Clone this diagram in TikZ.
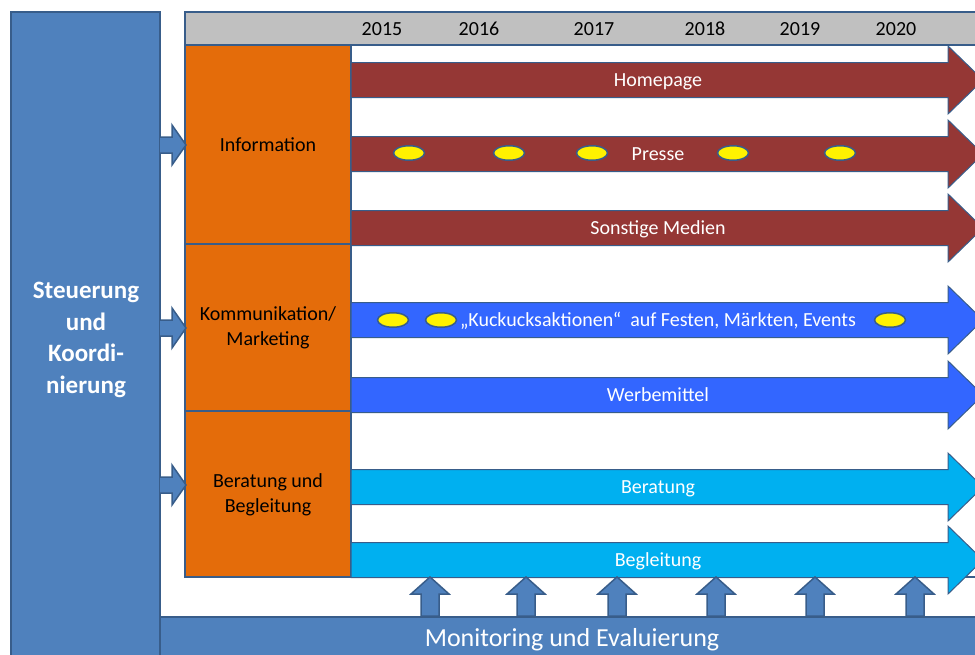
\documentclass[tikz,border=0pt]{standalone}
\usepackage{fontspec}
\setmainfont{Carlito}
\usetikzlibrary{shapes.geometric}
\definecolor{stbl}{HTML}{4F81BD}
\definecolor{rand}{HTML}{385D8A}
\definecolor{orng}{HTML}{E46C0A}
\definecolor{dunkelrot}{HTML}{953735}
\definecolor{mittelbl}{HTML}{3366FF}
\definecolor{hellbl}{HTML}{00B0F0}
\definecolor{kopfgrau}{HTML}{C0C0C0}
\begin{document}
\begin{tikzpicture}[x=1pt,y=-1pt,
  balken/.style={draw=rand,line width=1pt},
  feld/.style={draw=rand,line width=1.5pt},
  lbl/.style={font=\fontsize{20}{24.5}\selectfont,align=center,inner sep=0pt},
  punkt/.style={ellipse,draw=rand,line width=1.5pt,fill=yellow,minimum width=31pt,minimum height=14.5pt,inner sep=0pt}]
  \useasboundingbox (0,0) rectangle (975,654);
  \clip (0,0) rectangle (975,654);

  % Steuerung links, Monitoring unten
  \filldraw[feld,fill=stbl] (11,12) rectangle (160,670);
  \filldraw[feld,fill=stbl] (160,617) rectangle (990,670);
  \node[font=\bfseries\fontsize{25}{31.5}\selectfont,text=white,align=center] (steuerung) at (86,340) {Steuerung\\und\\Koordi-\\nierung};
  \node[font=\fontsize{26}{30}\selectfont,text=white,inner sep=0pt,anchor=base] (monitoring) at (572,646.5) {Monitoring und Evaluierung};

  % Rahmen mit Jahren
  \filldraw[feld,fill=white] (185,12) rectangle (990,577);
  \filldraw[feld,fill=kopfgrau] (185,12) rectangle (990,45);
  \foreach \j/\x in {2015/382,2016/479,2017/594,2018/705,2019/800,2020/896}
    \node[lbl] (j\j) at (\x,29) {\j};

  \filldraw[feld,fill=orng] (185,45) rectangle (351,244);
  \filldraw[feld,fill=orng] (185,244) rectangle (351,411);
  \filldraw[feld,fill=orng] (185,411) rectangle (351,577);
  \node[lbl] (information) at (268,145) {Information};
  \node[lbl] (kommunikation) at (268,328) {Kommunikation/\\Marketing};
  \node[lbl] (beratungsfeld) at (268,495) {Beratung und\\Begleitung};

  \foreach \c in {145,328,485}
    \filldraw[feld,fill=stbl] (160,\c-8) -- (172,\c-8) -- (172,\c-20) -- (186,\c) -- (172,\c+20) -- (172,\c+8) -- (160,\c+8);

  % Massnahmen-Pfeile
  \foreach \c/\f/\t/\n in {80/dunkelrot/Homepage/homepage,154/dunkelrot/Presse/presse,228/dunkelrot/Sonstige Medien/medien,320/mittelbl/{„Kuckucksaktionen“\ \ auf Festen, Märkten, Events}/kuckuck,395/mittelbl/Werbemittel/werbemittel,487/hellbl/Beratung/beratung,560/hellbl/Begleitung/begleitung}{
    \filldraw[balken,fill=\f] (351,\c-17.5) -- (948,\c-17.5) -- (948,\c-34) -- (983,\c) -- (948,\c+34) -- (948,\c+17.5) -- (351,\c+17.5) -- cycle;
    \node[lbl,text=white,anchor=base] (\n) at (658,\c+6.5) {\t};
  }

  \foreach \x [count=\i] in {409,509,592,733,840}
    \node[punkt] (p\i) at (\x,153) {};
  \foreach \x [count=\i] in {393,441,890}
    \node[punkt] (k\i) at (\x,320) {};

  \foreach \u in {430,526,617,716,815,915}
    \filldraw[feld,fill=stbl] (\u-9,616) -- (\u-9,594) -- (\u-19,594) -- (\u,577) -- (\u+19,594) -- (\u+9,594) -- (\u+9,616) -- cycle;
\end{tikzpicture}
\end{document}
